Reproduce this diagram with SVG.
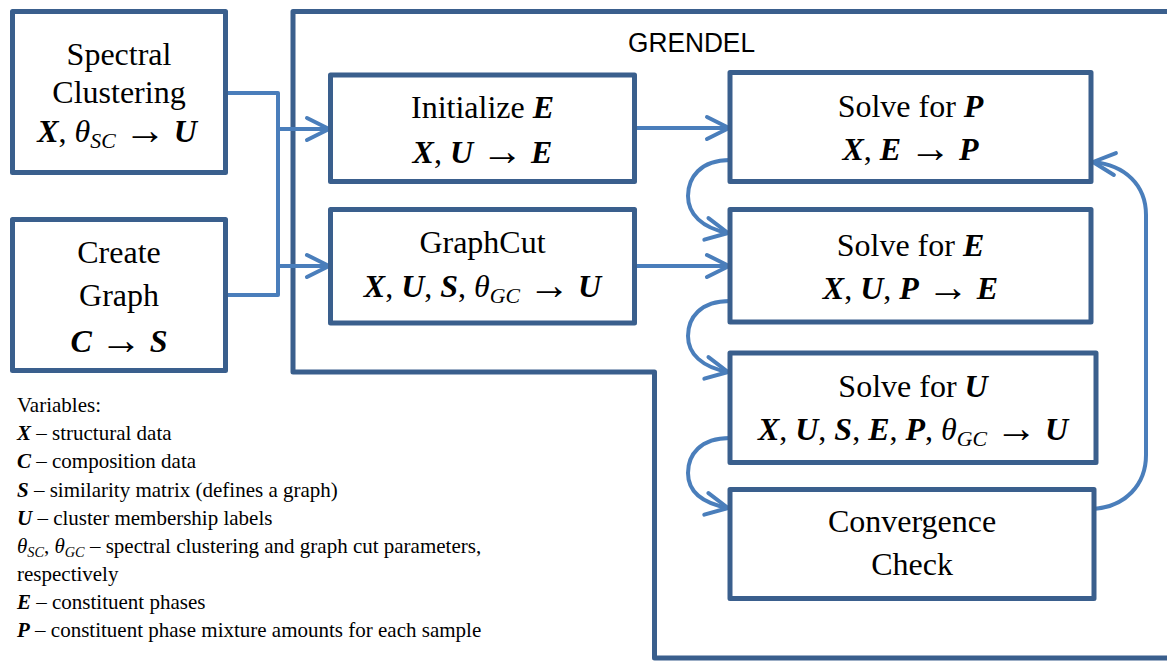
<svg xmlns="http://www.w3.org/2000/svg" width="1167" height="662" viewBox="0 0 1167 662">
<style>
.box{fill:#fff;stroke:#3a5f8d;stroke-width:5;stroke-linejoin:round}
.frame{fill:none;stroke:#3a5f8d;stroke-width:5;stroke-linejoin:round}
.con{fill:none;stroke:#4a7ebb;stroke-width:4;stroke-linejoin:round}
.arr{marker-end:url(#ah)}
.t{font-family:"Liberation Serif","Times New Roman",serif;font-size:32px;fill:#000;text-anchor:middle}
.lg{font-family:"Liberation Serif","Times New Roman",serif;font-size:21px;fill:#000}
.bi{font-weight:bold;font-style:italic}
.i{font-style:italic}
.sub{font-style:italic;font-size:68%}
.ar{font-size:42px}
.hdr{font-family:"Liberation Sans",Arial,sans-serif;font-size:27px;fill:#000}
</style>
<defs>
<marker id="ah" markerUnits="userSpaceOnUse" markerWidth="30" markerHeight="30" viewBox="0 0 30 30" refX="26" refY="15" orient="auto" overflow="visible">
<path d="M4,4 L26,15 L4,26" fill="none" stroke="#4a7ebb" stroke-width="4" stroke-linecap="round" stroke-linejoin="round"/>
</marker>
</defs>
<rect width="1167" height="662" fill="#fff"/>

<g id="grendel">
<path class="frame" d="M1172,11.5 H293 V372 H654.5 V658 H1172"/>
<text class="hdr" x="628" y="52" textLength="127" lengthAdjust="spacingAndGlyphs">GRENDEL</text>
</g>

<g id="connectors">
<path class="con" d="M225.5,93 H278 V295 H225.5"/>
<path class="con arr" d="M278,129 H329"/>
<path class="con arr" d="M278,266 H329"/>
<path class="con arr" d="M634.5,128 H729"/>
<path class="con arr" d="M634.5,266 H729"/>
<path class="con arr" d="M730,160 C700,160 688,178 688,196 C688,214 702,228 728,233"/>
<path class="con arr" d="M730,301 C700,301 688,318 688,336 C688,354 702,367 728,372"/>
<path class="con arr" d="M730,438 C700,438 688,455 688,473 C688,491 702,503 728,508"/>
<path class="con arr" d="M1093,509 C1125,507 1146,485 1146,455 V215 C1146,185 1125,165 1093,162"/>
</g>

<g id="spectral">
<rect class="box" x="12.5" y="11.5" width="213" height="161"/>
<text class="t" x="119" y="65">Spectral</text>
<text class="t" x="119" y="103">Clustering</text>
<text class="t" x="117" y="142"><tspan class="bi">X</tspan>, <tspan class="i">θ</tspan><tspan class="sub" dy="6">SC</tspan><tspan dy="-4"> </tspan><tspan class="ar">→</tspan><tspan dy="-2"> </tspan><tspan class="bi">U</tspan></text>
</g>

<g id="creategraph">
<rect class="box" x="12.5" y="219.5" width="213" height="151"/>
<text class="t" x="119" y="263">Create</text>
<text class="t" x="119" y="306">Graph</text>
<text class="t" x="119" y="352"><tspan class="bi">C</tspan> <tspan class="ar" dy="2">→</tspan><tspan dy="-2"> </tspan><tspan class="bi">S</tspan></text>
</g>

<g id="initialize">
<rect class="box" x="330.5" y="75" width="304" height="106.5"/>
<text class="t" x="482.5" y="118">Initialize <tspan class="bi">E</tspan></text>
<text class="t" x="482.5" y="163"><tspan class="bi">X</tspan>, <tspan class="bi">U</tspan> <tspan class="ar" dy="2">→</tspan><tspan dy="-2"> </tspan><tspan class="bi">E</tspan></text>
</g>

<g id="graphcut">
<rect class="box" x="330.5" y="209.5" width="304" height="113.5"/>
<text class="t" x="482.5" y="253">GraphCut</text>
<text class="t" x="482.5" y="297"><tspan class="bi">X</tspan>, <tspan class="bi">U</tspan>, <tspan class="bi">S</tspan>, <tspan class="i">θ</tspan><tspan class="sub" dy="6">GC</tspan><tspan dy="-4"> </tspan><tspan class="ar">→</tspan><tspan dy="-2"> </tspan><tspan class="bi">U</tspan></text>
</g>

<g id="solveP">
<rect class="box" x="730" y="72.5" width="361" height="109"/>
<text class="t" x="910.5" y="117">Solve for <tspan class="bi">P</tspan></text>
<text class="t" x="910.5" y="160"><tspan class="bi">X</tspan>, <tspan class="bi">E</tspan> <tspan class="ar" dy="2">→</tspan><tspan dy="-2"> </tspan><tspan class="bi">P</tspan></text>
</g>

<g id="solveE">
<rect class="box" x="730" y="209.5" width="361" height="112.5"/>
<text class="t" x="910.5" y="256">Solve for <tspan class="bi">E</tspan></text>
<text class="t" x="910.5" y="299"><tspan class="bi">X</tspan>, <tspan class="bi">U</tspan>, <tspan class="bi">P</tspan> <tspan class="ar" dy="2">→</tspan><tspan dy="-2"> </tspan><tspan class="bi">E</tspan></text>
</g>

<g id="solveU">
<rect class="box" x="730" y="353" width="366" height="109.5"/>
<text class="t" x="913" y="397">Solve for <tspan class="bi">U</tspan></text>
<text class="t" x="913" y="440"><tspan class="bi">X</tspan>, <tspan class="bi">U</tspan>, <tspan class="bi">S</tspan>, <tspan class="bi">E</tspan>, <tspan class="bi">P</tspan>, <tspan class="i">θ</tspan><tspan class="sub" dy="6">GC</tspan><tspan dy="-4"> </tspan><tspan class="ar">→</tspan><tspan dy="-2"> </tspan><tspan class="bi">U</tspan></text>
</g>

<g id="convergence">
<rect class="box" x="730" y="489.5" width="364" height="109"/>
<text class="t" x="912" y="532">Convergence</text>
<text class="t" x="912" y="575">Check</text>
</g>

<g id="legend">
<text class="lg" x="17" y="412">Variables:</text>
<text class="lg" x="17" y="440"><tspan class="bi">X</tspan> – structural data</text>
<text class="lg" x="17" y="468"><tspan class="bi">C</tspan> – composition data</text>
<text class="lg" x="17" y="497"><tspan class="bi">S</tspan> – similarity matrix (defines a graph)</text>
<text class="lg" x="17" y="525"><tspan class="bi">U</tspan> – cluster membership labels</text>
<text class="lg" x="17" y="553"><tspan class="i">θ</tspan><tspan class="sub" dy="4">SC</tspan><tspan dy="-4">, </tspan><tspan class="i">θ</tspan><tspan class="sub" dy="4">GC</tspan><tspan dy="-4"> – spectral clustering and graph cut parameters,</tspan></text>
<text class="lg" x="17" y="581">respectively</text>
<text class="lg" x="17" y="609"><tspan class="bi">E</tspan> – constituent phases</text>
<text class="lg" x="17" y="637"><tspan class="bi">P</tspan> – constituent phase mixture amounts for each sample</text>
</g>
</svg>
